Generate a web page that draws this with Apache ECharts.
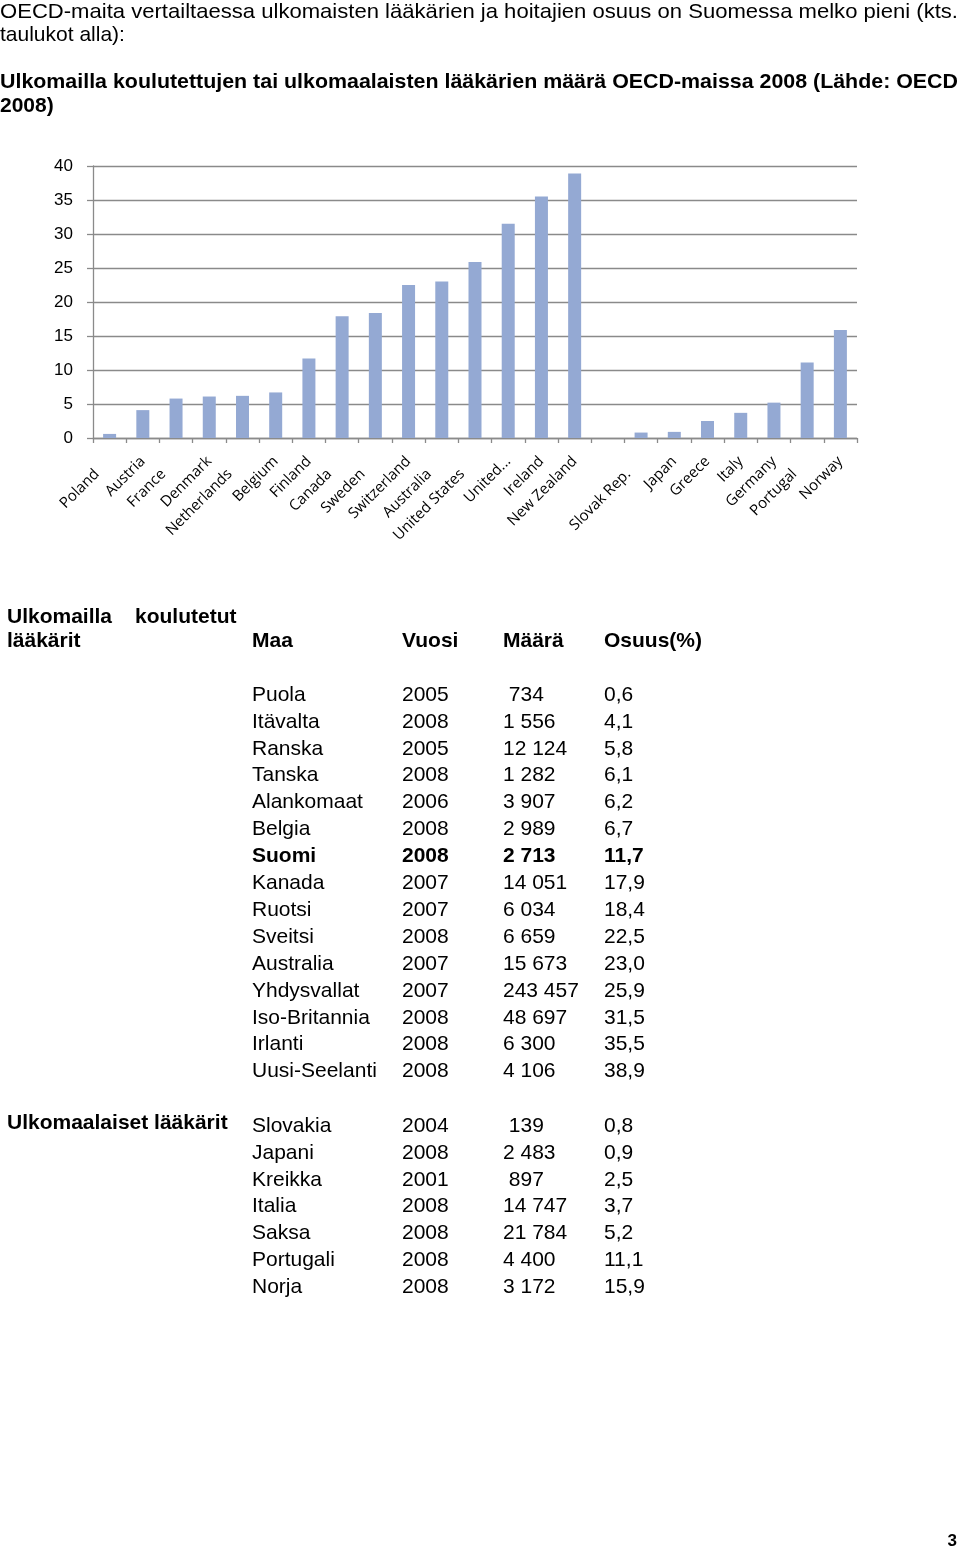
<!DOCTYPE html>
<html><head><meta charset="utf-8">
<script src="https://cdn.jsdelivr.net/npm/echarts@6/dist/echarts.min.js"></script>
<style>html,body{margin:0;padding:0;background:#fff}#c{width:960px;height:1551px}</style>
</head><body><div id="c"></div>
<script>
// ---- data ----
const chartCategories = ['Poland','Austria','France','Denmark','Netherlands','Belgium','Finland','Canada','Sweden','Switzerland','Australia','United States','United...','Ireland','New Zealand','','Slovak Rep.','Japan','Greece','Italy','Germany','Portugal','Norway'];
const trainedCountries = ['Puola','Itävalta','Ranska','Tanska','Alankomaat','Belgia','Suomi','Kanada','Ruotsi','Sveitsi','Australia','Yhdysvallat','Iso-Britannia','Irlanti','Uusi-Seelanti'];
const trainedYears = [2005,2008,2005,2008,2006,2008,2008,2007,2007,2008,2007,2007,2008,2008,2008];
const trainedCounts = [734,1556,12124,1282,3907,2989,2713,14051,6034,6659,15673,243457,48697,6300,4106];
const trainedShares = [0.6,4.1,5.8,6.1,6.2,6.7,11.7,17.9,18.4,22.5,23.0,25.9,31.5,35.5,38.9];
const foreignCountries = ['Slovakia','Japani','Kreikka','Italia','Saksa','Portugali','Norja'];
const foreignYears = [2004,2008,2001,2008,2008,2008,2008];
const foreignCounts = [139,2483,897,14747,21784,4400,3172];
const foreignShares = [0.8,0.9,2.5,3.7,5.2,11.1,15.9];
const yMin = 0, yMax = 40, yStep = 5;
const introLines = ['OECD-maita vertailtaessa ulkomaisten lääkärien ja hoitajien osuus on Suomessa melko pieni (kts.', 'taulukot alla):'];
const titleLines = ['Ulkomailla koulutettujen tai ulkomaalaisten lääkärien määrä OECD-maissa 2008 (Lähde: OECD', '2008)'];
const tableHeaders = ['Maa','Vuosi','Määrä','Osuus(%)'];
const group1Label = ['Ulkomailla','koulutetut','lääkärit'];
const group2Label = 'Ulkomaalaiset lääkärit';
const highlightCountry = 'Suomi';
const pageNumber = '3';

// ---- styling helpers ----
const lowLabels = new Set(['Poland','France','Netherlands','Canada','Sweden','Australia','United States','Slovak Rep.','Portugal']);
const FONT = '"Liberation Sans", Arial, sans-serif';
const FS = 21;
const measureCtx = document.createElement('canvas').getContext('2d');
function textWidth(s, size, weight){ measureCtx.font = (weight||'normal') + ' ' + size + 'px ' + FONT; return measureCtx.measureText(s).width; }
function fmtCount(n){ const s = String(n).replace(/\B(?=(\d{3})+(?!\d))/g,' '); return n < 1000 ? ' ' + s : s; }
function fmtShare(v){ return v.toFixed(1).replace('.', ','); }
function txt(s, x, y, o){
  o = o || {};
  return {type:'text', x:x, y:y, scaleX: o.scaleX || 1, silent:true,
    style:{text:s, fontFamily:FONT, fontSize:o.size||FS, fontWeight:o.weight||'normal', fill:'#000', align:o.align||'left', verticalAlign:'middle'}};
}
function justified(s, x, y, w, weight){
  const m = textWidth(s, FS, weight);
  return txt(s, x, y, {weight:weight, scaleX: w / m});
}

const graphics = [];
graphics.push(justified(introLines[0], 0, 12, 958, 'normal'));
graphics.push(txt(introLines[1], 0, 35));
graphics.push(justified(titleLines[0], 0, 82, 958, 'bold'));
graphics.push(txt(titleLines[1], 0, 106, {weight:'bold'}));

const colX = [252, 402, 503, 604];
graphics.push(txt(group1Label[0], 7, 617, {weight:'bold'}));
graphics.push(txt(group1Label[1], 135, 617, {weight:'bold'}));
graphics.push(txt(group1Label[2], 7, 641, {weight:'bold'}));
tableHeaders.forEach((h,i)=>graphics.push(txt(h, colX[i], 641, {weight:'bold'})));
const rowStep = 26.9;
trainedCountries.forEach((c,i)=>{
  const y = 695 + i*rowStep;
  const w = c === highlightCountry ? 'bold' : 'normal';
  [c, String(trainedYears[i]), fmtCount(trainedCounts[i]), fmtShare(trainedShares[i])].forEach((s,j)=>graphics.push(txt(s, colX[j], y, {weight:w})));
});
graphics.push(txt(group2Label, 7, 1123, {weight:'bold'}));
foreignCountries.forEach((c,i)=>{
  const y = 1126 + i*rowStep;
  [c, String(foreignYears[i]), fmtCount(foreignCounts[i]), fmtShare(foreignShares[i])].forEach((s,j)=>graphics.push(txt(s, colX[j], y)));
});
graphics.push(txt(pageNumber, 957, 1541, {weight:'bold', size:17, align:'right'}));

const labelFont = {fontFamily:'"Open Sans", sans-serif', fontSize:15, color:'#000'};
const chart = echarts.init(document.getElementById('c'), null, {renderer:'canvas'});
chart.setOption({
  animation:false,
  backgroundColor:'#fff',
  grid:{left:93, top:166, width:764, height:272, containLabel:false},
  xAxis:{
    type:'category', data:chartCategories, boundaryGap:true,
    axisLine:{show:true, lineStyle:{color:'#8a8a8a', width:1.3}},
    axisTick:{show:true, alignWithLabel:false, length:5, lineStyle:{color:'#8a8a8a', width:1.3}},
    axisLabel:{interval:0, rotate:45, margin:21,
      formatter: v => v ? (lowLabels.has(v) ? '{lo|' + v + '}' : '{hi|' + v + '}') : '',
      rich:{
        hi:Object.assign({padding:[0,0,0,0]}, labelFont),
        lo:Object.assign({padding:[0,18,0,0]}, labelFont)
      }, ...labelFont}
  },
  yAxis:{
    type:'value', min:yMin, max:yMax, interval:yStep,
    axisLine:{show:true, lineStyle:{color:'#8a8a8a', width:1.3}},
    axisTick:{show:true, length:6, lineStyle:{color:'#8a8a8a', width:1.3}},
    splitLine:{show:true, lineStyle:{color:'#8a8a8a', width:1.3}},
    axisLabel:{margin:20, fontFamily:FONT, fontSize:17, color:'#000'}
  },
  series:[{
    type:'bar', barWidth:13,
    data: trainedShares.concat(['-'], foreignShares),
    itemStyle:{color:'#94a9d3'}
  }],
  graphic: graphics
});
</script></body></html>
